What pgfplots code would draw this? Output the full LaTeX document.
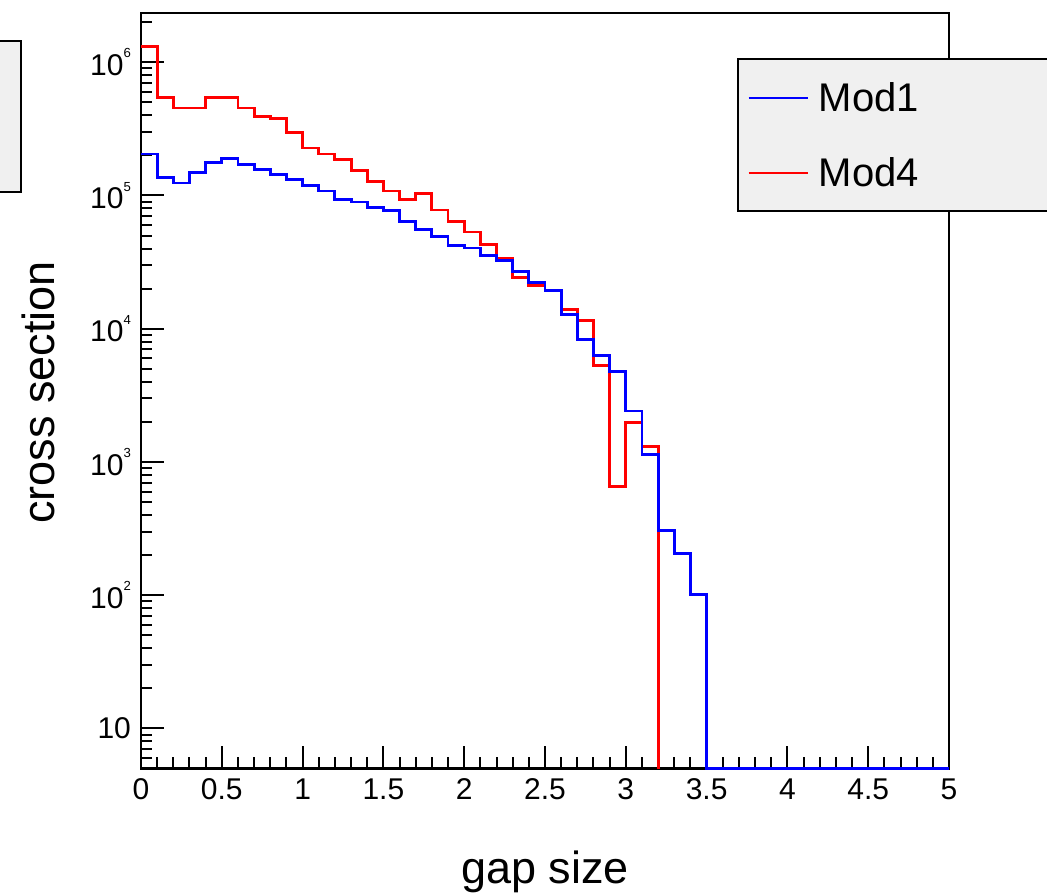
\documentclass[border=0pt]{standalone}
\usepackage{pgfplots}
\pgfplotsset{compat=1.18}
\usepackage{fontspec}
\setmainfont{Liberation Sans}
\definecolor{lgray}{RGB}{240,240,240}
\newcommand{\sn}[1]{10\raisebox{6.2pt}{\fontsize{4.6}{4.6}\selectfont #1}}
\begin{document}
\begin{tikzpicture}
\path[use as bounding box] (-49.35pt,-43.6pt) rectangle (317.1pt,268.98pt);
\begin{axis}[
  scale only axis, width=282.8pt, height=264.4pt,
  at={(0,0)}, anchor=south west,
  xmin=0, xmax=5, ymode=log, ymin=5, ymax=2.34e6,
  clip=false,
  axis line style={line width=0.8pt},
  every tick/.style={line width=0.7pt, black},
  tick align=inside,
  xtick pos=left, ytick pos=left,
  major tick length=8pt, minor tick length=4pt,
  xtick={0,0.5,1,1.5,2,2.5,3,3.5,4,4.5,5},
  xticklabels={0,0.5,1,1.5,2,2.5,3,3.5,4,4.5,5},
  minor x tick num=4,
  ytick={10,100,1000,10000,100000,1000000},
  yticklabels={10,\sn{2},\sn{3},\sn{4},\sn{5},\sn{6}},
  minor ytick={6,7,8,9,20,30,40,50,60,70,80,90,200,300,400,500,600,700,800,900,
    2000,3000,4000,5000,6000,7000,8000,9000,20000,30000,40000,50000,60000,70000,80000,90000,
    200000,300000,400000,500000,600000,700000,800000,900000,2000000},
  ticklabel style={font=\fontsize{10.5}{12}\selectfont},
  xlabel={gap size}, ylabel={cross section},
  label style={font=\fontsize{15.75}{18}\selectfont},
  xlabel style={at={(axis description cs:0.5,-0.1516)}, anchor=base},
  ylabel style={at={(axis description cs:-0.1275,0.498)}, anchor=center},
  legend style={at={(axis description cs:0.7376,0.9404)}, anchor=north west,
    fill=lgray, draw=black, line width=0.7pt,
    inner xsep=3.4pt, inner ysep=8.5pt, column sep=3.5pt, row sep=16.25pt,
    font=\fontsize{14}{16}\selectfont,
    nodes={inner sep=0pt, text height=10pt, text depth=0pt}},
  legend cell align=left,
  legend image code/.code={\draw[#1, line width=0.6pt] (0pt,0pt) -- (20.8pt,0pt);},
]
\draw[fill=lgray, line width=0.7pt] (axis description cs:-0.25,0.963) rectangle (axis description cs:-0.1489,0.763);
\addlegendimage{blue, line width=1pt}
\addlegendentry{\makebox[110pt][l]{Mod1}}
\addplot[red, line width=1pt, const plot] coordinates {
(0,1.32e6) (0.1,5.46e5) (0.2,4.54e5) (0.3,4.54e5) (0.4,5.46e5) (0.5,5.46e5)
(0.6,4.54e5) (0.7,3.91e5) (0.8,3.77e5) (0.9,2.96e5) (1.0,2.27e5) (1.1,2.05e5)
(1.2,1.87e5) (1.3,1.54e5) (1.4,1.28e5) (1.5,1.08e5) (1.6,9.36e4) (1.7,1.03e5)
(1.8,7.78e4) (1.9,6.40e4) (2.0,5.32e4) (2.1,4.27e4) (2.2,3.36e4) (2.3,2.43e4)
(2.4,2.12e4) (2.5,1.95e4) (2.6,1.40e4) (2.7,1.16e4) (2.8,5310) (2.9,652)
(3.0,1980) (3.1,1300) (3.2,5)
};
\addlegendentry{\makebox[110pt][l]{Mod4}}
\addplot[blue, line width=1pt, const plot, forget plot] coordinates {
(0,2.05e5) (0.1,1.37e5) (0.2,1.24e5) (0.3,1.48e5) (0.4,1.78e5) (0.5,1.89e5)
(0.6,1.72e5) (0.7,1.57e5) (0.8,1.43e5) (0.9,1.31e5) (1.0,1.19e5) (1.1,1.08e5)
(1.2,9.36e4) (1.3,8.94e4) (1.4,8.15e4) (1.5,7.69e4) (1.6,6.40e4) (1.7,5.57e4)
(1.8,4.91e4) (1.9,4.23e4) (2.0,4.04e4) (2.1,3.56e4) (2.2,3.24e4) (2.3,2.67e4)
(2.4,2.21e4) (2.5,1.93e4) (2.6,1.27e4) (2.7,8320) (2.8,6310) (2.9,4790)
(3.0,2410) (3.1,1140) (3.2,308) (3.3,206) (3.4,101) (3.5,5) (5,5)
};
\end{axis}
\end{tikzpicture}
\end{document}
